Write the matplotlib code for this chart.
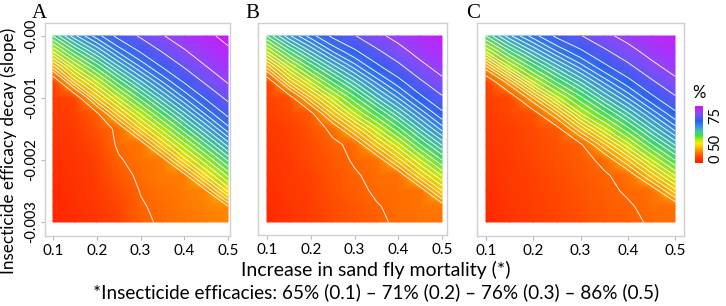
import matplotlib
matplotlib.use("Agg")
import numpy as np
import matplotlib.pyplot as plt
from matplotlib.colors import LinearSegmentedColormap, Normalize
from matplotlib.cm import ScalarMappable

# grid: increase in mortality (x) and efficacy decay slope (y)
mortality = [0.10, 0.15, 0.20, 0.25, 0.30, 0.35, 0.40, 0.45, 0.50]
slope = [0.0, -0.00025, -0.0005, -0.00075, -0.001, -0.00125, -0.0015,
         -0.00175, -0.002, -0.00225, -0.0025, -0.00275, -0.003]

# estimated colour-scale values, one row per slope value (top row = slope 0)
z_a = [
    [50, 59.3, 66.4, 73.5, 78.8, 83.6, 87.1, 90.4, 94],
    [38, 49.1, 57.4, 65.7, 72.4, 78.3, 83.4, 87.4, 90.8],
    [24, 37.8, 47.8, 57, 65, 72.2, 78.3, 83.8, 87.7],
    [9, 26, 37.4, 47.8, 56.6, 64.7, 72.2, 78.8, 84.3],
    [8.5, 11, 26.6, 38.1, 47.8, 56.7, 65, 72.7, 79.4],
    [8, 9.5, 14, 27.6, 38.5, 48.2, 57, 65.7, 73.5],
    [7, 8.5, 12.5, 16, 28.8, 39.2, 48.9, 57.7, 66.6],
    [6, 7.7, 11, 15.8, 17, 29.6, 39.9, 49.6, 58.6],
    [5.5, 7, 10, 14.5, 16.8, 18, 30.8, 40.6, 50.6],
    [5, 6.5, 9.2, 13, 16, 17.5, 18.5, 31.6, 41.7],
    [4, 6, 8.5, 11.8, 15.2, 16.8, 18, 19.5, 32.7],
    [3.5, 5.5, 7.7, 10.5, 14.5, 16.2, 17.5, 18.8, 19.8],
    [3, 5, 7, 9.5, 13.8, 15.8, 17, 18, 19],
]
z_b = [
    [50, 59.3, 66.4, 73, 77.6, 82.4, 86, 89.4, 92],
    [38, 49.1, 57.4, 65, 71, 76.8, 81.8, 86.2, 89.5],
    [24, 37.8, 47.8, 56, 63.4, 70.5, 76.4, 82.2, 86.4],
    [10, 26, 37.4, 46.8, 54.8, 62.8, 69.9, 76.8, 82.4],
    [9.5, 12, 25.5, 36.9, 46, 54.8, 62.5, 70.5, 77.1],
    [9, 11, 13.5, 26.4, 37.7, 46, 54.5, 62.8, 70.8],
    [8, 10, 12.5, 16, 26.6, 37, 46, 55.1, 63.4],
    [7, 9, 11.5, 14.2, 16, 27.3, 37, 46.8, 55.4],
    [6.5, 8.5, 10.8, 13.3, 15.5, 16.5, 27.6, 37.8, 47.1],
    [6, 8, 10, 12.5, 14.5, 16.2, 16.5, 28.4, 38.1],
    [5, 7.5, 9.5, 12, 13.8, 15.6, 16.3, 17, 28.8],
    [4.5, 7, 9, 11.3, 13, 14.7, 16, 16.8, 17.5],
    [4, 6.5, 8.5, 10.8, 12.5, 14, 15.8, 16.5, 17],
]
z_c = [
    [50, 59.3, 66.4, 73, 77.6, 82.4, 86, 89.4, 92],
    [38, 49.1, 57.4, 65, 71, 76.8, 81.8, 86.2, 89.5],
    [22.2, 37.8, 47.8, 56, 63.4, 70.5, 76.4, 82.2, 86.4],
    [9.5, 22, 37.4, 46.8, 54.8, 62.8, 69.9, 76.8, 82.4],
    [9, 11, 23, 36.9, 46, 54.8, 62.5, 70.5, 77.1],
    [8.5, 10.5, 12.5, 23.6, 37.7, 46, 54.5, 62.8, 70.8],
    [7.5, 9.5, 11.5, 13, 25.5, 37, 46, 55.1, 63.4],
    [7, 9, 11, 12.5, 14.2, 25.4, 37, 46.8, 55.4],
    [6.5, 8.5, 10.5, 12, 13.5, 16, 26, 37.8, 47.1],
    [6, 8, 10, 11.5, 13, 14.5, 16.5, 27.2, 38.1],
    [5, 7.5, 9.5, 11, 12.5, 14, 15.5, 16.5, 27.5],
    [4.5, 7, 9, 10.5, 12, 13.5, 14.5, 16.2, 16.5],
    [4, 6.5, 8.5, 10, 11.5, 13, 14, 15.5, 16],
]
panels = ['A', 'B', 'C']
# iso-lines as they sit in the picture: dense near the threshold, sparse in the top corner
contour_levels = [15, 20, 23, 26, 29, 32, 35, 38, 41, 44, 47, 50, 52.5, 55, 57.5,
                  60, 62.5, 65, 68, 72, 78, 84, 92]
x_ticks = [0.1, 0.2, 0.3, 0.4, 0.5]
x_ticklabels = ['0.1', '0.2', '0.3', '0.4', '0.5']
y_ticks = [0.0, -0.001, -0.002, -0.003]
y_ticklabels = ['-0.00', '-0.001', '-0.002', '-0.003']
cbar_labels = ['0', '50', '75']

plt.rcParams['font.family'] = ['Lato', 'DejaVu Sans']

cmap = LinearSegmentedColormap.from_list('pct', [
    (0.00, '#ff1a00'), (0.10, '#ff4000'), (0.17, '#ff6e00'), (0.21, '#ff8c00'),
    (0.27, '#ffbb00'), (0.34, '#ffe600'), (0.41, '#b0f000'), (0.48, '#3ce050'),
    (0.56, '#40c8a0'), (0.64, '#3c8ce8'), (0.74, '#2860f0'), (0.86, '#8050f8'),
    (1.00, '#d214ff')])
norm = Normalize(0, 95)

W, H = 726, 306
fig = plt.figure(figsize=(W / 100, H / 100), dpi=100)


def px_axes(l, t, r, b):
    return fig.add_axes([l / W, 1 - b / H, (r - l) / W, (b - t) / H])


frames = [(45, 23, 230, 236), (258, 23, 447, 235), (477, 23, 684, 236)]
images = [(53, 228), (267, 442), (486, 675)]
img_top, img_bot = 36, 222

X, Y = np.meshgrid(mortality, slope)
for i, (lab, z) in enumerate(zip(panels, [z_a, z_b, z_c])):
    fl, ft, fr, fb = frames[i]
    il, ir = images[i]
    ax = px_axes(fl, ft, fr, fb)
    Z = np.array(z)
    ax.pcolormesh(X, Y, Z, shading='gouraud', cmap=cmap, norm=norm)
    ax.contour(X, Y, Z, levels=contour_levels, colors='white', linewidths=0.7, alpha=0.9)
    sx = (ir - il) / 0.4
    ax.set_xlim(0.1 - (il - fl) / sx, 0.5 + (fr - ir) / sx)
    sy = (img_bot - img_top) / 0.003
    ax.set_ylim(-0.003 - (fb - img_bot) / sy, (img_top - ft) / sy)
    for s in ax.spines.values():
        s.set_color('#cfcfcf')
        s.set_linewidth(1)
    ax.set_xticks(x_ticks)
    ax.set_xticklabels(x_ticklabels)
    ax.tick_params(axis='x', color='#b8b8b8', length=3, width=0.8, labelsize=11, pad=3)
    if i == 0:
        ax.set_yticks(y_ticks)
        ax.set_yticklabels(y_ticklabels, rotation=90, va='center')
        ax.tick_params(axis='y', color='#b8b8b8', length=3, width=0.8, labelsize=10.5, pad=2)
    else:
        ax.set_yticks([])
    lx = [39, 252, 473][i]
    fig.text(lx / W, 1 - 13 / H, lab, family='Liberation Serif', fontsize=15,
             ha='center', va='center')

# colour bar, labels placed where the legend shows them
cax = px_axes(695, 106, 703, 163)
cb = fig.colorbar(ScalarMappable(norm=norm, cmap=cmap), cax=cax)
cb.outline.set_visible(False)
cax.set_yticks([6.5, 35, 80])
cax.set_yticklabels(cbar_labels, rotation=90, va='center')
cax.tick_params(length=0, labelsize=10.5, pad=4)
fig.text(699 / W, 1 - 93 / H, '%', fontsize=12, ha='center', va='center')

fig.text(376 / W, 1 - 270 / H, 'Increase in sand fly mortality (*)', fontsize=14,
         ha='center', va='center')
fig.text(376 / W, 1 - 292 / H,
         '*Insecticide efficacies: 65% (0.1) \u2013 71% (0.2) \u2013 76% (0.3) \u2013 86% (0.5)',
         fontsize=13.6, ha='center', va='center')
fig.text(9 / W, 1 - 151 / H, 'Insecticide efficacy decay (slope)', fontsize=12.3,
         rotation=90, ha='center', va='center')

fig.savefig('out.png', dpi=100)
